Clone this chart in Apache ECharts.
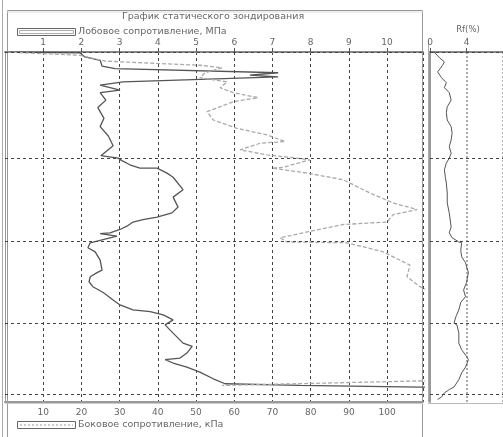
<!DOCTYPE html>
<html><head><meta charset="utf-8">
<script src="https://cdn.jsdelivr.net/npm/echarts@6/dist/echarts.min.js"></script>
<style>html,body{margin:0;padding:0;background:#fff}#c{width:503px;height:437px}</style>
</head><body><div id="c"></div><script>
// Depth (m) and cone resistance qc (MPa)
const qcDepth = [0,0.01,0.06,0.10,0.17,0.20,0.25,0.28,0.30,0.36,0.40,0.43,0.46,0.49,0.58,0.67,0.80,0.90,1.01,1.13,1.25,1.28,1.31,1.36,1.40,1.40,1.46,1.51,1.66,1.75,1.87,1.94,1.99,2.02,2.05,2.10,2.14,2.18,2.19,2.22,2.30,2.36,2.41,2.51,2.63,2.66,2.71,2.77,2.83,2.90,2.99,3.05,3.11,3.13,3.17,3.23,3.29,3.39,3.51,3.55,3.63,3.69,3.71,3.75,3.80,3.86,3.94,4.00,4.02,4.04,4.04];
const qcValues = [0.05,1.96,2.09,2.49,2.54,2.88,7.15,6.41,7.15,3.09,2.49,2.75,3.01,2.49,2.64,2.43,2.59,2.49,2.70,2.83,2.51,2.96,3.06,3.27,3.53,3.98,4.24,4.40,4.66,4.40,4.53,4.37,3.98,3.61,3.35,3.19,3.01,2.75,2.49,2.93,2.23,2.17,2.36,2.49,2.54,2.41,2.23,2.20,2.30,2.57,2.83,3.01,3.35,3.80,4.14,4.40,4.19,4.40,4.66,4.90,4.76,4.58,4.19,4.40,4.76,5.10,5.45,5.76,7.72,10.86,11.4];
// Depth (m) and sleeve friction fs (kPa)
const fsDepth = [0,0.04,0.11,0.16,0.19,0.25,0.31,0.36,0.43,0.49,0.55,0.60,0.72,0.82,0.92,1.00,1.08,1.10,1.18,1.24,1.28,1.30,1.39,1.40,1.46,1.54,1.70,1.82,1.90,1.96,2.05,2.08,2.17,2.24,2.29,2.30,2.41,2.57,2.71,2.83,2.99,3.35,3.71,3.95,4.02];
const fsValues = [0.5,19.6,26.2,51.0,56.8,52.4,51.0,58.1,56.3,59.7,66.2,59.7,52.9,54.5,60.7,68.6,73.3,66.8,61.5,68.6,76.4,79.8,72.8,69.9,79.1,88.5,95.5,101.6,107.9,101.6,100.0,88.5,79.1,72.0,73.8,89.5,99.0,106.0,105.2,108.6,116.5,121.7,119,124,56.8];
// Depth (m) and friction ratio Rf (%)
const rfDepth = [0,0.01,0.07,0.12,0.16,0.24,0.31,0.37,0.43,0.49,0.58,0.66,0.73,0.82,0.90,0.98,1.06,1.14,1.22,1.28,1.34,1.42,1.51,1.58,1.70,1.82,1.94,2.11,2.18,2.24,2.29,2.30,2.39,2.47,2.54,2.66,2.78,2.87,2.95,3.02,3.11,3.19,3.27,3.29,3.39,3.51,3.59,3.67,3.71,3.80,3.87,3.95,4.04,4.07,4.11,4.16,4.19];
const rfValues = [0.21,0.53,1.05,1.58,1.37,0.84,1.26,1.79,1.58,2.11,2.32,1.89,1.79,1.89,2.32,2.42,2.32,2.11,2.32,2.11,1.79,1.58,1.68,1.79,1.89,1.89,2.11,2.32,2.11,2.42,3.16,3.47,3.37,3.47,3.89,4.21,4.00,3.68,3.89,3.37,3.16,2.84,2.63,2.95,3.16,3.16,3.47,4.00,4.21,3.89,3.47,3.16,2.63,2.11,1.58,1.26,0.84];
const gridDepths = [0,1.28,2.28,3.27,4.13];
const qcTicks = [1,2,3,4,5,6,7,8,9,10];
const fsTicks = [10,20,30,40,50,60,70,80,90,100];
const rfTicks = [0,4];

const zip = (a,b) => a.map((d,i)=>[b[i],d]);
const chart = echarts.init(document.getElementById('c'));
const F = '"DejaVu Sans", sans-serif';
const lab = {color:'#666', fontSize:9, fontFamily:F};
const dashGrid = {color:'#444', type:[3,3], width:1};
const markGrid = {silent:true, symbol:'none', label:{show:false}, lineStyle:dashGrid, data: gridDepths.map(d=>({yAxis:d}))};

chart.setOption({
  animation:false,
  grid:[{left:5,right:80,top:52,bottom:35},{left:430,right:-3,top:52,bottom:35}],
  xAxis:[
    {gridIndex:0,type:'value',position:'top',min:0,max:10.94,interval:1,
     axisLine:{lineStyle:{color:'#888',width:2}},axisTick:{show:true,length:4,lineStyle:{color:'#555'}},
     axisLabel:Object.assign({margin:5,showMinLabel:false,showMaxLabel:false,formatter:v=>qcTicks.includes(v)?String(v):''},lab),
     splitLine:{show:true,lineStyle:dashGrid}},
    {gridIndex:0,type:'value',position:'bottom',min:0,max:109.4,interval:10,
     axisLine:{lineStyle:{color:'#999',width:2}},axisTick:{show:false},
     axisLabel:Object.assign({margin:6,showMinLabel:false,showMaxLabel:false,formatter:v=>fsTicks.includes(v)?String(v):''},lab),
     splitLine:{show:false}},
    {gridIndex:1,type:'value',position:'top',min:0,max:8,interval:4,
     axisLine:{lineStyle:{color:'#888',width:2}},axisTick:{show:true,length:4,lineStyle:{color:'#555'}},
     axisLabel:Object.assign({margin:5,showMaxLabel:false,formatter:v=>rfTicks.includes(v)?String(v):''},lab),
     splitLine:{show:true,lineStyle:{color:'#aaa',type:[2,2],width:2}}}
  ],
  yAxis:[
    {gridIndex:0,type:'value',inverse:true,min:0,max:4.22,axisLabel:{show:false},axisTick:{show:false},
     splitLine:{show:false},axisLine:{show:true,lineStyle:{color:'#999',width:1}}},
    {gridIndex:1,type:'value',inverse:true,min:0,max:4.22,axisLabel:{show:false},axisTick:{show:false},
     splitLine:{show:false},axisLine:{show:true,lineStyle:{color:'#999',width:2}}}
  ],
  series:[
    {type:'line',xAxisIndex:0,yAxisIndex:0,data:zip(qcDepth,qcValues),showSymbol:false,
     lineStyle:{color:'#555',width:1.3},markLine:markGrid},
    {type:'line',xAxisIndex:1,yAxisIndex:0,data:zip(fsDepth,fsValues),showSymbol:false,
     lineStyle:{color:'#aaa',width:1.3,type:[4,2]}},
    {type:'line',xAxisIndex:2,yAxisIndex:1,data:zip(rfDepth,rfValues),showSymbol:false,
     lineStyle:{color:'#555',width:1},markLine:markGrid}
  ],
  graphic:[
    {type:'line',shape:{x1:2.5,y1:0,x2:2.5,y2:437},style:{stroke:'#aaa',lineWidth:1}},
    {type:'rect',shape:{x:7.5,y:10.5,width:415,height:440},style:{fill:null,stroke:'#999',lineWidth:1}},
    {type:'line',shape:{x1:7,y1:12,x2:423,y2:12},style:{stroke:'#ddd',lineWidth:1}},
    {type:'line',shape:{x1:428.5,y1:40,x2:428.5,y2:402},style:{stroke:'#aaa',lineWidth:1}},
    {type:'line',shape:{x1:428,y1:403.5,x2:503,y2:403.5},style:{stroke:'#bbb',lineWidth:1}},
    {type:'line',shape:{x1:5,y1:403.5,x2:423,y2:403.5},style:{stroke:'#ccc',lineWidth:1}},
    {type:'text',style:{x:213,y:17,text:'График статического зондирования',fill:'#666',font:'9.5px '+F,textAlign:'center',textVerticalAlign:'middle'}},
    {type:'rect',shape:{x:17.5,y:28.5,width:58,height:7},style:{fill:'#fff',stroke:'#666',lineWidth:1}},
    {type:'rect',shape:{x:19.5,y:30.5,width:54,height:3},style:{fill:'#fff',stroke:'#aaa',lineWidth:1}},
    {type:'text',style:{x:78,y:32,text:'Лобовое сопротивление, МПа',fill:'#666',font:'9.5px '+F,textVerticalAlign:'middle'}},
    {type:'rect',shape:{x:17.5,y:421.5,width:58,height:7},style:{fill:'#fff',stroke:'#666',lineWidth:1}},
    {type:'line',shape:{x1:20,y1:425,x2:73,y2:425},style:{stroke:'#999',lineWidth:1,lineDash:[2,2]}},
    {type:'text',style:{x:78,y:425,text:'Боковое сопротивление, кПа',fill:'#666',font:'9.5px '+F,textVerticalAlign:'middle'}},
    {type:'text',style:{x:468,y:30,text:'Rf(%)',fill:'#666',font:'8.5px '+F,textAlign:'center',textVerticalAlign:'middle'}}
  ]
});
</script></body></html>
